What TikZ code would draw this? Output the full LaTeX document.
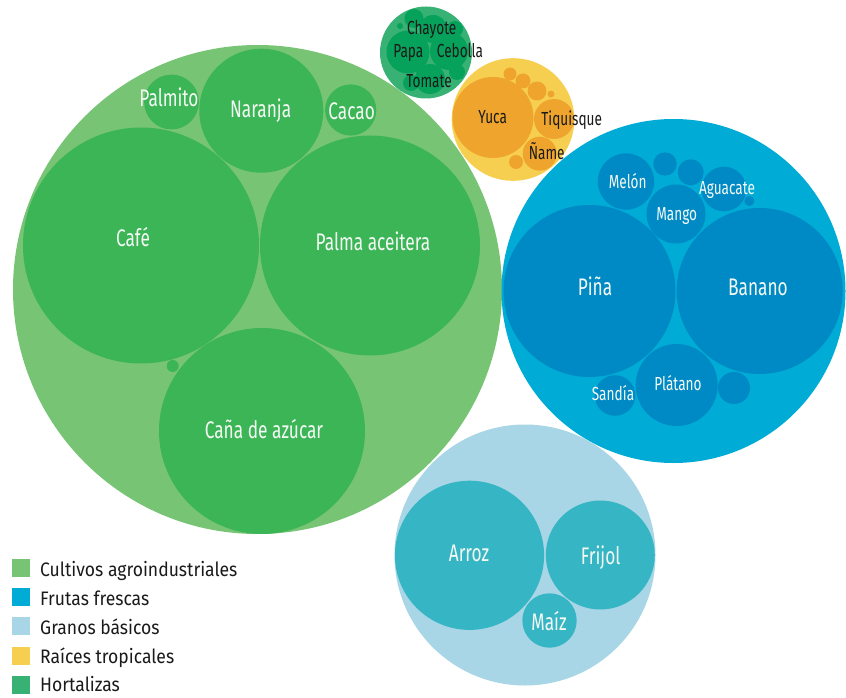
\documentclass[tikz,border=0pt]{standalone}
\usepackage{fontspec}
\setmainfont{Fira Sans}
\newfontfamily\labfont{Fira Sans}[FakeStretch=0.72]
\newfontfamily\legfont{Fira Sans}[FakeStretch=0.9]
\definecolor{cultOut}{HTML}{78C475}
\definecolor{cultIn}{HTML}{3BB556}
\definecolor{fruOut}{HTML}{00ABD6}
\definecolor{fruIn}{HTML}{008AC5}
\definecolor{graOut}{HTML}{A8D6E6}
\definecolor{graIn}{HTML}{36B6C5}
\definecolor{raiOut}{HTML}{F6CF50}
\definecolor{raiIn}{HTML}{EFA52D}
\definecolor{horOut}{HTML}{38B174}
\definecolor{horIn}{HTML}{06A15B}
\definecolor{lightTxt}{HTML}{F4F9F4}
\definecolor{darkTxt}{HTML}{1A1A1A}
\tikzset{
  bub/.style={circle, inner sep=0pt, outer sep=0pt, draw=none},
  big/.style={font=\labfont\fontsize{24}{28}\selectfont, anchor=base, inner sep=0pt},
  small/.style={font=\labfont\fontsize{18.9}{22}\selectfont, anchor=base, inner sep=0pt},
  wt/.style={text=lightTxt},
  bk/.style={text=darkTxt},
  legsq/.style={minimum size=18pt, inner sep=0pt, anchor=center},
  legtx/.style={font=\legfont\fontsize{19.5}{22}\selectfont, anchor=base west, inner sep=0pt, text=darkTxt}
}
\newcommand{\bub}[5]{\node[bub, fill=#5, minimum size=2*#4 pt] (#1) at (#2,#3) {};}
\begin{document}
\begin{tikzpicture}[x=1pt,y=-1pt]
\useasboundingbox (0,0) rectangle (846,698);
% Cultivos agroindustriales
\bub{cult}{257.5}{289.5}{244.5}{cultOut}
\bub{cafe}{141}{245.5}{118}{cultIn}
\bub{palma}{370}{245.5}{110}{cultIn}
\bub{cana}{262}{431}{103}{cultIn}
\bub{naranja}{261.3}{110.7}{62}{cultIn}
\bub{palmito}{171.5}{102}{27.4}{cultIn}
\bub{cacao}{350.7}{110}{25.6}{cultIn}
\bub{cultx}{172.7}{366}{6}{cultIn}
% Hortalizas
\bub{hort}{426}{52.5}{46}{horOut}
\bub{hx1}{414}{18.5}{9.5}{horIn}
\bub{hx2}{400}{26}{3}{horIn}
\bub{chayote}{433}{29}{14}{horIn}
\bub{hx3}{455}{29}{8}{horIn}
\bub{papa}{408}{52}{21.5}{horIn}
\bub{cebolla}{449}{51}{19}{horIn}
\bub{tomate}{430}{79}{15}{horIn}
\bub{hx4}{457}{72}{8}{horIn}
\bub{hx5}{411}{83}{8}{horIn}
% Raices tropicales
\bub{rai}{513}{119.5}{61.3}{raiOut}
\bub{yuca}{493}{117.5}{40.5}{raiIn}
\bub{tiquisque}{554}{119}{20}{raiIn}
\bub{name}{539.7}{153.7}{17}{raiIn}
\bub{rx1}{510}{74}{6.5}{raiIn}
\bub{rx2}{523}{81}{7.5}{raiIn}
\bub{rx3}{537}{91}{9.5}{raiIn}
\bub{rx4}{551}{94}{3.5}{raiIn}
\bub{rx5}{516}{162}{7}{raiIn}
% Frutas frescas
\bub{fru}{673.5}{291}{172}{fruOut}
\bub{pina}{589.5}{291}{86}{fruIn}
\bub{banano}{759.7}{291}{83}{fruIn}
\bub{platano}{676.7}{385}{41}{fruIn}
\bub{sandia}{615}{395.5}{20.3}{fruIn}
\bub{fx1}{734}{388}{16}{fruIn}
\bub{melon}{626}{181.5}{28.2}{fruIn}
\bub{mango}{676}{214}{29.5}{fruIn}
\bub{aguacate}{724}{189}{22.3}{fruIn}
\bub{fx2}{665}{164}{11.7}{fruIn}
\bub{fx3}{690.7}{172.3}{13}{fruIn}
\bub{fx4}{749.3}{201}{5}{fruIn}
% Granos basicos
\bub{gra}{525}{555}{130.5}{graOut}
\bub{arroz}{469.5}{555.3}{74.6}{graIn}
\bub{frijol}{600.3}{555}{54.5}{graIn}
\bub{maiz}{549.5}{620.5}{27.2}{graIn}
% Labels
\node[big,wt] (cafeL) at (133,246) {Café};
\node[big,wt] (palmaL) at (373,250) {Palma aceitera};
\node[big,wt] (canaL) at (264,438.3) {Caña de azúcar};
\node[big,wt] (naranjaL) at (260.7,117.3) {Naranja};
\node[big,wt] (palmitoL) at (169,106.7) {Palmito};
\node[big,wt] (cacaoL) at (351.7,119.3) {Cacao};
\node[big,wt] (pinaL) at (595,295) {Piña};
\node[big,wt] (bananoL) at (758,295) {Banano};
\node[big,wt] (arrozL) at (469,561.7) {Arroz};
\node[big,wt] (frijolL) at (600.7,564) {Frijol};
\node[big,wt] (maizL) at (549,630) {Maíz};
\node[small,wt] (platanoL) at (678,390.7) {Plátano};
\node[small,wt] (sandiaL) at (613,400) {Sandía};
\node[small,wt] (melonL) at (627.7,188.3) {Melón};
\node[small,wt] (mangoL) at (676.7,220) {Mango};
\node[small,wt] (aguacateL) at (727,194.3) {Aguacate};
\node[small,bk] (yucaL) at (492.7,124) {Yuca};
\node[small,bk] (tiquisqueL) at (571.7,126) {Tiquisque};
\node[small,bk] (nameL) at (546.7,159.3) {Ñame};
\node[small,bk] (chayoteL) at (431.7,34.3) {Chayote};
\node[small,bk] (papaL) at (408.3,57.3) {Papa};
\node[small,bk] (cebollaL) at (460,57.3) {Cebolla};
\node[small,bk] (tomateL) at (429,87.3) {Tomate};
% Legend
\node[legsq, fill=cultOut] (sq1) at (21,568) {};
\node[legsq, fill=fruOut] (sq2) at (21,597) {};
\node[legsq, fill=graOut] (sq3) at (21,625.5) {};
\node[legsq, fill=raiOut] (sq4) at (21,655.5) {};
\node[legsq, fill=horOut] (sq5) at (21,684.5) {};
\node[legtx] (lg1) at (40,576) {Cultivos agroindustriales};
\node[legtx] (lg2) at (40,605) {Frutas frescas};
\node[legtx] (lg3) at (40,634.3) {Granos básicos};
\node[legtx] (lg4) at (40,663.3) {Raíces tropicales};
\node[legtx] (lg5) at (40,691.7) {Hortalizas};
\end{tikzpicture}
\end{document}
